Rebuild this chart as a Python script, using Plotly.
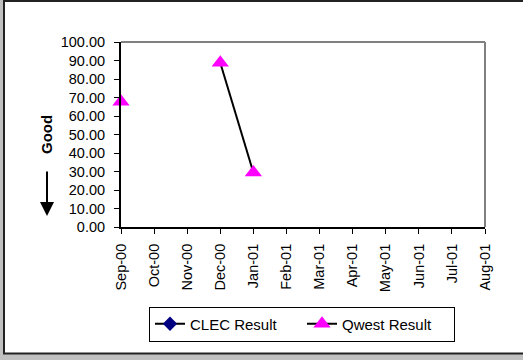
import plotly.graph_objects as go

months = ["Sep-00", "Oct-00", "Nov-00", "Dec-00", "Jan-01", "Feb-01",
          "Mar-01", "Apr-01", "May-01", "Jun-01", "Jul-01", "Aug-01"]
clec_result = [None] * 12
qwest_result = [67.7, None, None, 88.8, 29.5, None, None, None, None, None, None, None]
y_ticks = [0, 10, 20, 30, 40, 50, 60, 70, 80, 90, 100]

W, H = 523, 360
L, R, T, B = 121, 485, 42, 227  # plot area in pixels


def px(x):
    return (x - L) / (R - L)


def py(y):
    return (B - y) / (B - T)


FONT = "Arial, Liberation Sans, sans-serif"

fig = go.Figure()
fig.add_trace(go.Scatter(
    x=months, y=clec_result, name="CLEC Result", mode="lines+markers",
    line=dict(color="black", width=2),
    marker=dict(symbol="diamond", size=11, color="#000080"),
    cliponaxis=False,
))
fig.add_trace(go.Scatter(
    x=months, y=qwest_result, name="Qwest Result", mode="lines+markers",
    line=dict(color="black", width=2),
    marker=dict(symbol="triangle-up", size=15, color="#FF00FF"),
    cliponaxis=False, connectgaps=False,
))

fig.update_layout(
    width=W, height=H,
    margin=dict(l=L, r=W - R, t=T, b=H - B, pad=0),
    paper_bgcolor="#c0c0c0",
    plot_bgcolor="white",
    font=dict(family=FONT, color="black", size=13),
    showlegend=True,
    legend=dict(
        orientation="h", x=px(302), y=py(324), xanchor="center", yanchor="middle",
        bgcolor="white", bordercolor="black", borderwidth=1,
        font=dict(size=15, family=FONT), itemclick=False,
        entrywidth=107,
    ),
    xaxis=dict(
        type="category", categoryorder="array", categoryarray=months,
        range=[0, len(months) - 1],
        showline=True, linecolor="black", linewidth=2,
        ticks="outside", ticklen=5, tickcolor="black", tickwidth=1,
        tickangle=-90, showgrid=False, zeroline=False,
        tickfont=dict(size=14.5, family=FONT),
        ticklabelstandoff=4,
    ),
    yaxis=dict(
        range=[0, 100], tickvals=y_ticks, tickformat=".2f",
        showline=True, linecolor="black", linewidth=2,
        ticks="outside", ticklen=5, tickcolor="black", tickwidth=1,
        showgrid=False, zeroline=False,
        tickfont=dict(size=14.5, family=FONT),
        ticklabelstandoff=6,
    ),
    shapes=[
        dict(type="rect", xref="paper", yref="paper",
             x0=px(4), x1=px(540), y0=py(353.5), y1=py(1),
             line=dict(color="#222222", width=2), fillcolor="white", layer="below"),
        dict(type="line", xref="paper", yref="paper",
             x0=0, x1=1, y0=1, y1=1, line=dict(color="#808080", width=2), layer="above"),
        dict(type="line", xref="paper", yref="paper",
             x0=1, x1=1, y0=0, y1=1, line=dict(color="#808080", width=2), layer="above"),
    ],
    annotations=[
        dict(text="<b>Good</b>", xref="paper", yref="paper", x=px(46), y=py(135),
             showarrow=False, textangle=-90, font=dict(size=15, family=FONT),
             xanchor="center", yanchor="middle"),
        dict(text="", xref="paper", yref="paper", x=px(47), y=py(216),
             ax=0, ay=-46, showarrow=True, arrowhead=2, arrowsize=1.4,
             arrowwidth=2, arrowcolor="black"),
    ],
)

fig.write_html(
    "out.html",
    config={"displayModeBar": False},
    post_script="document.body.style.margin='0';document.body.style.overflow='hidden';",
)
